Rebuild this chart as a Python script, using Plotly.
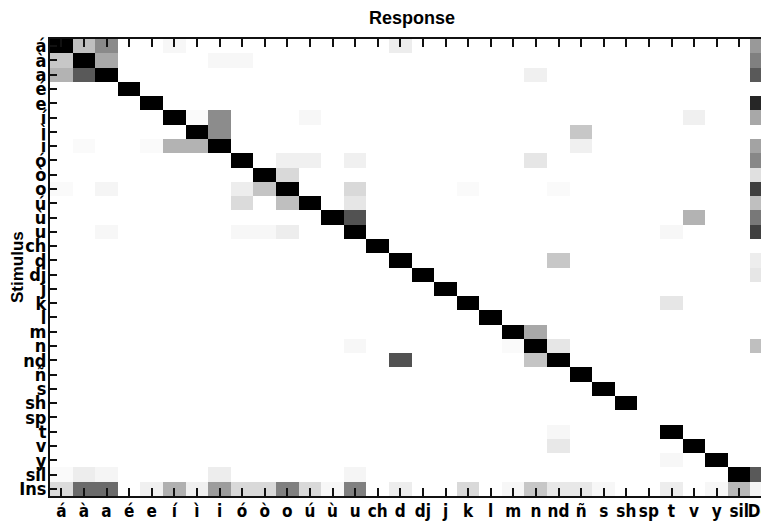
import plotly.graph_objects as go

# ---- data -------------------------------------------------------------
response = ["á", "à", "a", "é", "e", "í", "ì", "i", "ó", "ò", "o", "ú", "ù", "u",
            "ch", "d", "dj", "j", "k", "l", "m", "n", "nd", "ñ", "s", "sh", "sp",
            "t", "v", "y", "sil", "Del"]
stimulus = ["á", "à", "a", "é", "e", "í", "ì", "i", "ó", "ò", "o", "ú", "ù", "u",
            "ch", "d", "dj", "j", "k", "l", "m", "n", "nd", "ñ", "s", "sh", "sp",
            "t", "v", "y", "sil", "Ins"]

# correct responses (diagonal), proportion of stimulus
diagonal = {"á": 1.0, "à": 1.0, "a": 1.0, "é": 1.0, "e": 1.0, "í": 1.0, "ì": 1.0,
            "i": 1.0, "ó": 1.0, "ò": 1.0, "o": 1.0, "ú": 1.0, "ù": 1.0, "u": 1.0,
            "ch": 1.0, "d": 1.0, "dj": 1.0, "j": 1.0, "k": 1.0, "l": 1.0, "m": 1.0,
            "n": 1.0, "nd": 1.0, "ñ": 1.0, "s": 1.0, "sh": 1.0, "t": 1.0, "v": 1.0,
            "y": 1.0, "sil": 1.0}

# confusions: stimulus -> {response: proportion}
confusions = {
    "á": {"à": 0.25, "a": 0.46, "í": 0.03, "d": 0.07, "Del": 0.40},
    "à": {"á": 0.22, "a": 0.34, "i": 0.03, "ó": 0.03, "Del": 0.50},
    "a": {"á": 0.30, "à": 0.65, "n": 0.06, "Del": 0.65},
    "e": {"Del": 0.85},
    "í": {"ì": 0.02, "i": 0.45, "ú": 0.03, "v": 0.06, "Del": 0.34},
    "ì": {"i": 0.45, "ñ": 0.22},
    "i": {"à": 0.02, "e": 0.02, "í": 0.30, "ì": 0.30, "ñ": 0.06, "Del": 0.36},
    "ó": {"o": 0.06, "ú": 0.06, "u": 0.06, "n": 0.10, "Del": 0.47},
    "ò": {"o": 0.15, "Del": 0.12},
    "o": {"á": 0.02, "a": 0.04, "ó": 0.07, "ò": 0.23, "u": 0.15, "k": 0.02,
          "nd": 0.02, "Del": 0.75},
    "ú": {"ó": 0.14, "o": 0.25, "u": 0.10, "Del": 0.25},
    "ù": {"u": 0.68, "v": 0.30, "Del": 0.53},
    "u": {"a": 0.03, "ó": 0.03, "ò": 0.03, "o": 0.07, "t": 0.03, "Del": 0.75},
    "d": {"nd": 0.22, "Del": 0.07},
    "dj": {"Del": 0.10},
    "k": {"t": 0.10},
    "m": {"n": 0.34},
    "n": {"u": 0.03, "m": 0.02, "nd": 0.10, "Del": 0.25},
    "nd": {"d": 0.68, "n": 0.23},
    "t": {"nd": 0.03},
    "v": {"nd": 0.09},
    "y": {"t": 0.03},
    "sil": {"á": 0.02, "à": 0.07, "a": 0.04, "i": 0.07, "u": 0.04, "Del": 0.65},
    "Ins": {"á": 0.14, "à": 0.58, "a": 0.58, "e": 0.06, "í": 0.31, "ì": 0.06,
            "i": 0.39, "ó": 0.15, "ò": 0.15, "o": 0.50, "ú": 0.15, "ù": 0.03,
            "u": 0.50, "d": 0.07, "k": 0.15, "m": 0.03, "n": 0.22, "nd": 0.09,
            "ñ": 0.09, "s": 0.03, "t": 0.07, "y": 0.03, "sil": 0.28, "Del": 0.04},
}

# ---- build matrix -----------------------------------------------------
z = []
for s in stimulus:
    row = []
    for r in response:
        v = 0.0
        if s == r and s in diagonal:
            v = diagonal[s]
        v = confusions.get(s, {}).get(r, v)
        row.append(v)
    z.append(row)

FONT = "Liberation Sans Narrow, DejaVu Sans Condensed, Arial Narrow, sans-serif"
TFONT = "Liberation Sans, Arial, Helvetica, sans-serif"

fig = go.Figure(go.Heatmap(
    z=z,
    x=list(range(len(response))),
    y=list(range(len(stimulus))),
    colorscale=[[0, "#ffffff"], [1, "#000000"]],
    zmin=0, zmax=1,
    showscale=False,
))

OFF = 8  # page body margin
W, H = 769 - OFF, 522 - OFF
L, T, B = 50 - OFF, 39 - OFF, 26
plot_w = W - L
cell_w = 22.6
x_max = -0.5 + plot_w / cell_w

fig.update_layout(
    width=W, height=H,
    margin=dict(l=L, r=0, t=T, b=B, pad=0, autoexpand=False),
    plot_bgcolor="white", paper_bgcolor="white",
    title=dict(text="Response", x=(412 - OFF) / W, xref="container", xanchor="center",
               y=1 - (17.5 - OFF) / H, yref="container", yanchor="middle",
               font=dict(family=TFONT, size=18, color="black", weight="bold")),
    xaxis=dict(
        range=[-0.5, x_max],
        tickmode="array",
        tickvals=list(range(len(response))),
        ticktext=response,
        tickangle=0,
        automargin=False,
        ticks="inside", ticklen=8, tickwidth=1.5, tickcolor="#111",
        showline=True, linewidth=2, linecolor="#111", mirror="ticks",
        showgrid=False, zeroline=False,
        ticklabelstandoff=-1,
        ticklabeloverflow="allow",
        tickfont=dict(family=FONT, size=17, color="black", weight="bold"),
        fixedrange=True,
    ),
    yaxis=dict(
        range=[len(stimulus) - 0.5, -0.5],
        tickmode="array",
        tickvals=list(range(len(stimulus))),
        ticktext=stimulus,
        automargin=False,
        ticks="inside", ticklen=7, tickwidth=1.5, tickcolor="#111",
        showline=True, linewidth=2, linecolor="#111", mirror="ticks",
        showgrid=False, zeroline=False,
        ticklabelstandoff=-2,
        ticklabeloverflow="allow",
        tickfont=dict(family=FONT, size=18, color="black", weight="bold"),
        fixedrange=True,
    ),
    annotations=[dict(
        text="Stimulus", xref="paper", yref="paper",
        x=(17.5 - 50) / plot_w, y=0.5, xanchor="center", yanchor="middle",
        textangle=-90, showarrow=False,
        font=dict(family=TFONT, size=17, color="black", weight="bold"),
    )],
)

fig.write_html("out.html")
